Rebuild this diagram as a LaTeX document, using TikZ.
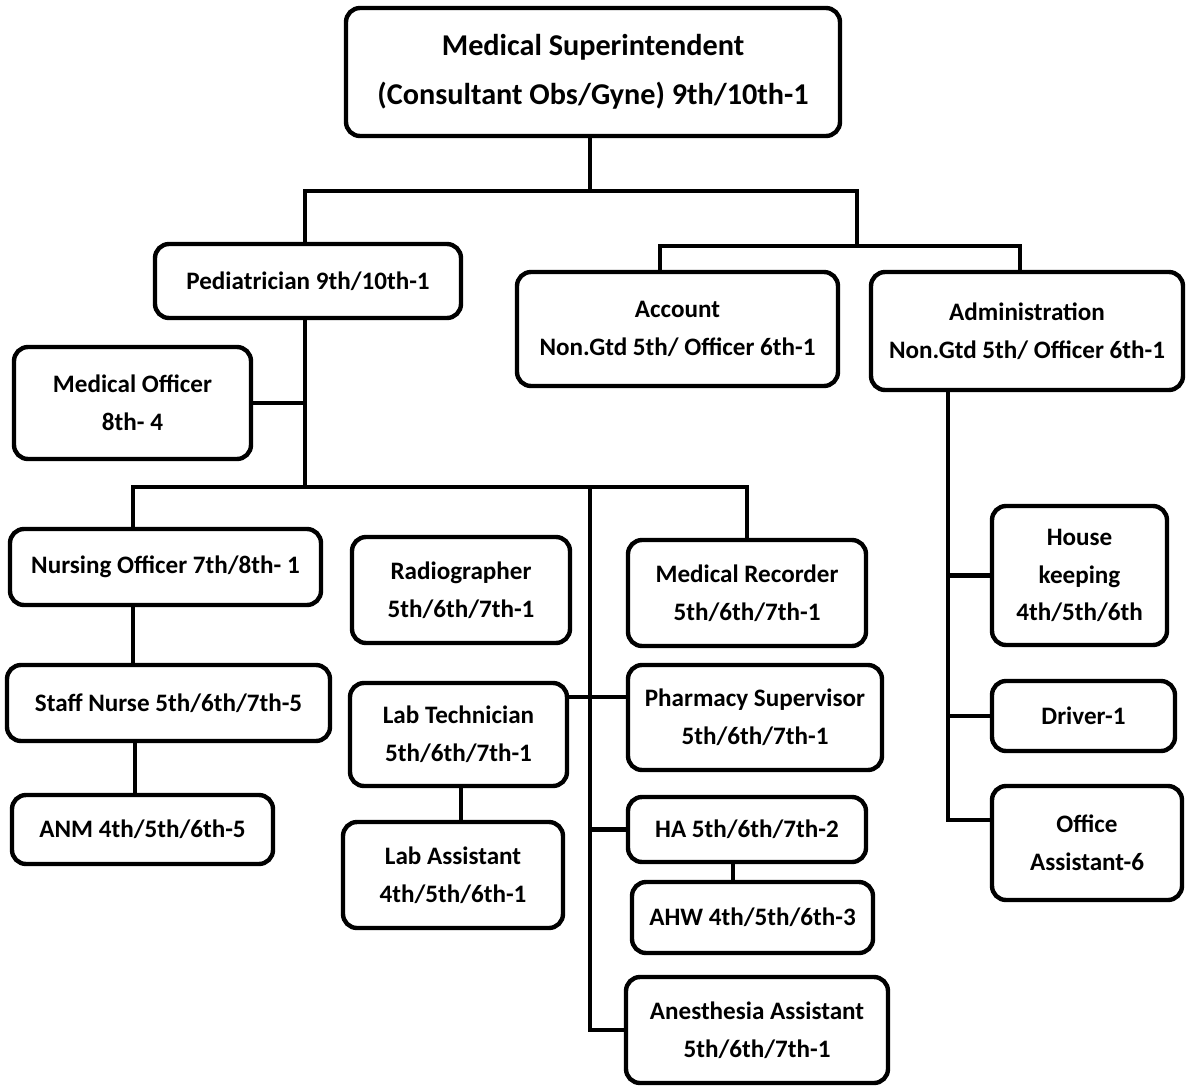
\documentclass[tikz,border=0pt]{standalone}
\usepackage{fontspec}
\setmainfont{Carlito}
\usetikzlibrary{positioning}
\tikzset{boxsize/.style 2 args={minimum width=#1*0.02cm, minimum height=#2*0.02cm}}

\begin{document}
\begin{tikzpicture}[x=0.02cm, y=-0.02cm,
    post/.style={draw, rounded corners=8pt, line width=2.5pt, align=center,
                 inner sep=0pt, fill=white,
                 font=\fontsize{14.3}{21.5}\selectfont\bfseries},
    link/.style={line width=2.5pt}
  ]
  \useasboundingbox (0,0) rectangle (1186,1085);

  % top level
  \node[post, boxsize={494}{128}, font=\fontsize{17.2}{28}\selectfont\bfseries] (ms) at (593,72)
    {Medical Superintendent\\(Consultant Obs/Gyne) 9th/10th-1};
  \node[post, boxsize={306}{74}]  (ped) at (308,281) {Pediatrician 9th/10th-1};
  \node[post, boxsize={321}{114}] (acc) at (677.5,329) {Account\\Non.Gtd 5th/ Officer 6th-1};
  \node[post, boxsize={312}{118}] (adm) at (1027,331) {Administration\\Non.Gtd 5th/ Officer 6th-1};
  \node[post, boxsize={237}{112}] (mo)  at (132.5,403) {Medical Officer\\8th- 4};

  % nursing column
  \node[post, boxsize={311}{76}] (no)  at (165.5,567) {Nursing Officer 7th/8th- 1};
  \node[post, boxsize={323}{76}] (sn)  at (168.5,703) {Staff Nurse 5th/6th/7th-5};
  \node[post, boxsize={261}{69}] (anm) at (142.5,829.5) {ANM 4th/5th/6th-5};

  % lab column
  \node[post, boxsize={218}{106}] (rad) at (461,590) {Radiographer\\5th/6th/7th-1};
  \node[post, boxsize={217}{103}] (lt)  at (458.5,734.5) {Lab Technician\\5th/6th/7th-1};
  \node[post, boxsize={220}{106}] (la)  at (453,875) {Lab Assistant\\4th/5th/6th-1};

  % records column
  \node[post, boxsize={238}{106}] (mr)  at (747,593) {Medical Recorder\\5th/6th/7th-1};
  \node[post, boxsize={254}{105}] (ps)  at (755,717.5) {Pharmacy Supervisor\\5th/6th/7th-1};
  \node[post, boxsize={238}{65}]  (ha)  at (747,829.5) {HA 5th/6th/7th-2};
  \node[post, boxsize={241}{71}]  (ahw) at (752.5,917.5) {AHW 4th/5th/6th-3};
  \node[post, boxsize={262}{106}] (aa)  at (757,1030) {Anesthesia Assistant\\5th/6th/7th-1};

  % administration column
  \node[post, boxsize={175}{139}] (hk) at (1079.5,575.5) {House\\keeping\\4th/5th/6th};
  \node[post, boxsize={183}{70}]  (dr) at (1083.5,716) {Driver-1};
  \node[post, boxsize={190}{114}] (oa) at (1087,843) {Office\\Assistant-6};

  % bus points
  \coordinate (top)  at (590,191);
  \coordinate (rbus) at (857,246);
  \coordinate (pbus) at (305,487);
  \coordinate (nx)   at (133,487);
  \coordinate (cx)   at (590,487);
  \coordinate (ax)   at (948,390);

  % connectors
  \draw[link] (ms.south -| top) -- (top);
  \draw[link] (pbus |- ped.north) |- (top) -| (rbus);
  \draw[link] (acc.north -| 660,0) |- (rbus) -| (adm.north -| 1020,0);
  \draw[link] (pbus |- ped.south) -- (pbus);
  \draw[link] (mo.east) -- (mo.east -| pbus);
  \draw[link] (nx |- no.north) -- (nx) -| (mr.north);
  \draw[link] (no.south -| nx) -- (sn.north -| nx);
  \draw[link] (sn.south -| 135,0) -- (anm.north -| 135,0);
  \draw[link] (cx) |- (aa.west);
  \draw[link] (lt.east |- 0,697) -- (ps.west |- 0,697);
  \draw[link] (cx |- ha.west) -- (ha.west);
  \draw[link] (ha.south -| 733,0) -- (ahw.north -| 733,0);
  \draw[link] (lt.south -| 461,0) -- (la.north -| 461,0);
  \draw[link] (adm.south -| ax) |- (oa.west |- 0,820);
  \draw[link] (ax |- hk.west) -- (hk.west);
  \draw[link] (ax |- dr.west) -- (dr.west);
\end{tikzpicture}
\end{document}
